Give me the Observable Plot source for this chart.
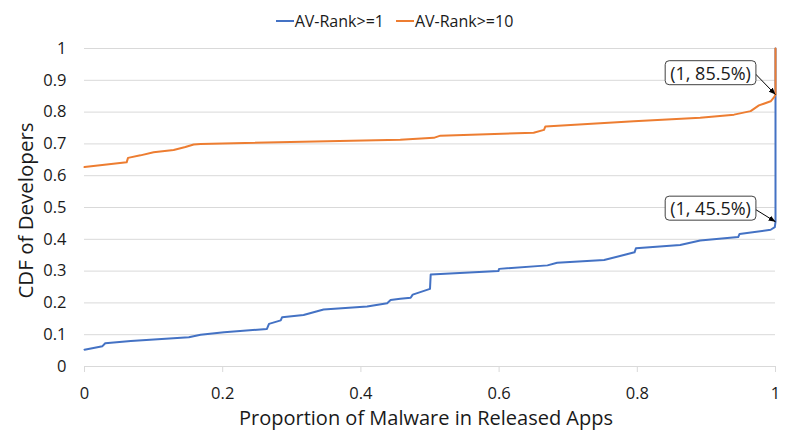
<!DOCTYPE html>
<html>
<head>
<meta charset="utf-8">
<script src="https://cdn.jsdelivr.net/npm/d3@7"></script>
<script src="https://cdn.jsdelivr.net/npm/@observablehq/plot@0.6"></script>
<style>
  html, body { margin: 0; padding: 0; background: #fff; }
  #wrap { position: relative; width: 789px; height: 444px; overflow: hidden; font-family: "Open Sans", sans-serif; }
  #legend { position: absolute; top: 10px; left: 0; width: 789px; display: flex; justify-content: center; gap: 12px; font-size: 16px; color: #1a1a1a; line-height: 22px; }
  #legend .item { display: flex; align-items: center; }
  #legend .sw { display: inline-block; width: 18px; height: 2px; margin-right: 1px; }
  svg { display: block; }
</style>
</head>
<body>
<div id="wrap"><div id="legend"></div></div>
<script>
// Series names and colours
const seriesNames = ["AV-Rank>=1", "AV-Rank>=10"];
const seriesColors = ["#4472C4", "#ED7D31"];

// AV-Rank>=1 CDF
const blueX = [0, 0.026, 0.030, 0.067, 0.151, 0.168, 0.202, 0.264, 0.267, 0.284, 0.286, 0.317, 0.346, 0.409, 0.438, 0.443, 0.457, 0.472, 0.475, 0.500, 0.501, 0.599, 0.600, 0.670, 0.684, 0.752, 0.796, 0.798, 0.862, 0.891, 0.946, 0.948, 0.993, 0.999, 1.0, 1.0];
const blueY = [0.053, 0.064, 0.073, 0.080, 0.092, 0.100, 0.108, 0.118, 0.134, 0.145, 0.155, 0.162, 0.179, 0.189, 0.199, 0.209, 0.213, 0.216, 0.226, 0.244, 0.289, 0.300, 0.307, 0.318, 0.326, 0.335, 0.359, 0.372, 0.382, 0.396, 0.407, 0.417, 0.430, 0.438, 0.455, 1.0];

// AV-Rank>=10 CDF
const orangeX = [0, 0.061, 0.063, 0.081, 0.100, 0.129, 0.146, 0.158, 0.168, 0.457, 0.5055, 0.515, 0.650, 0.665, 0.667, 0.795, 0.891, 0.940, 0.964, 0.976, 0.993, 0.998, 1.0, 1.0];
const orangeY = [0.627, 0.642, 0.656, 0.664, 0.674, 0.681, 0.690, 0.698, 0.700, 0.713, 0.719, 0.726, 0.735, 0.744, 0.755, 0.771, 0.782, 0.792, 0.803, 0.821, 0.834, 0.847, 0.855, 1.0];

// Axis ticks
const xTicks = [0, 0.2, 0.4, 0.6, 0.8, 1];
const yTicks = [0, 0.1, 0.2, 0.3, 0.4, 0.5, 0.6, 0.7, 0.8, 0.9, 1];
const xLabel = "Proportion of Malware in Released Apps";
const yLabel = "CDF of Developers";

// Annotations: target point, label position
const annX = [1, 1];
const annY = [0.855, 0.455];
const annLabel = ["(1, 85.5%)", "(1, 45.5%)"];
const annLabelX = [0.906, 0.906];
const annLabelY = [0.92, 0.494];
const annArrowX = [0.971, 0.971];

const blue = blueX.map((x, i) => ({x, y: blueY[i]}));
const orange = orangeX.map((x, i) => ({x, y: orangeY[i]}));
const ann = annX.map((x, i) => ({x, y: annY[i], label: annLabel[i], lx: annLabelX[i], ly: annLabelY[i], ax: annArrowX[i]}));
const fmt = d => String(+d.toFixed(1));

const plot = Plot.plot({
  width: 789,
  height: 444,
  marginLeft: 84,
  marginRight: 14,
  marginTop: 48,
  marginBottom: 78,
  style: {fontFamily: "'Open Sans', sans-serif", fontSize: "16px", color: "#1a1a1a", background: "transparent"},
  x: {domain: [0, 1]},
  y: {domain: [0, 1]},
  marks: [
    Plot.gridY(yTicks, {stroke: "#d9d9d9", strokeOpacity: 1, strokeWidth: 1}),
    Plot.axisY(yTicks, {tickSize: 0, tickPadding: 18, tickFormat: fmt, label: null, fontSize: 16.5}),
    Plot.axisX(xTicks, {tickSize: 6, tickPadding: 15, stroke: "#d9d9d9", tickFormat: fmt, label: null, fontSize: 16.5}),
    Plot.text([yLabel], {frameAnchor: "left", textAnchor: "middle", rotate: -90, dx: -58, dy: 3, text: d => d, fontSize: 20.5}),
    Plot.text([xLabel], {frameAnchor: "bottom", textAnchor: "middle", dy: 58, dx: -4, text: d => d, fontSize: 20}),
    Plot.line(blue, {x: "x", y: "y", stroke: seriesColors[0], strokeWidth: 2}),
    Plot.line(orange, {x: "x", y: "y", stroke: seriesColors[1], strokeWidth: 2}),
    Plot.link(ann, {x1: "ax", y1: "ly", x2: "x", y2: "y", stroke: "#000", strokeWidth: 1}),
    Plot.text(ann, {x: "lx", y: "ly", text: "label", fontSize: 18, fill: "#1a1a1a"})
  ]
});

const wrap = document.getElementById("wrap");
wrap.insertBefore(plot, wrap.firstChild);

// Filled arrowheads on annotation leader lines
const ns = "http://www.w3.org/2000/svg";
const defs = document.createElementNS(ns, "defs");
defs.innerHTML = '<marker id="ah" viewBox="0 0 10 10" refX="10" refY="5" markerWidth="7" markerHeight="7" markerUnits="userSpaceOnUse" orient="auto"><path d="M0,1 L10,5 L0,9 Z" fill="#000"/></marker>';
plot.insertBefore(defs, plot.firstChild);
d3.select(plot).selectAll('g[aria-label="link"] path').attr("marker-end", "url(#ah)");

// Boxes behind annotation labels
d3.select(plot).selectAll("text").filter(function() { return annLabel.includes(this.textContent); }).each(function() {
  const b = this.getBBox();
  const tr = this.getAttribute("transform");
  const r = document.createElementNS(ns, "rect");
  r.setAttribute("x", b.x - 5); r.setAttribute("y", b.y);
  r.setAttribute("width", b.width + 10); r.setAttribute("height", b.height);
  r.setAttribute("rx", 4); r.setAttribute("fill", "#fff");
  r.setAttribute("stroke", "#404040"); r.setAttribute("stroke-width", 1);
  if (tr) r.setAttribute("transform", tr);
  this.parentNode.insertBefore(r, this);
});

// Legend
const legend = d3.select("#legend");
seriesNames.forEach((n, i) => {
  const it = legend.append("div").attr("class", "item");
  it.append("span").attr("class", "sw").style("background", seriesColors[i]);
  it.append("span").text(n);
});
</script>
</body>
</html>
